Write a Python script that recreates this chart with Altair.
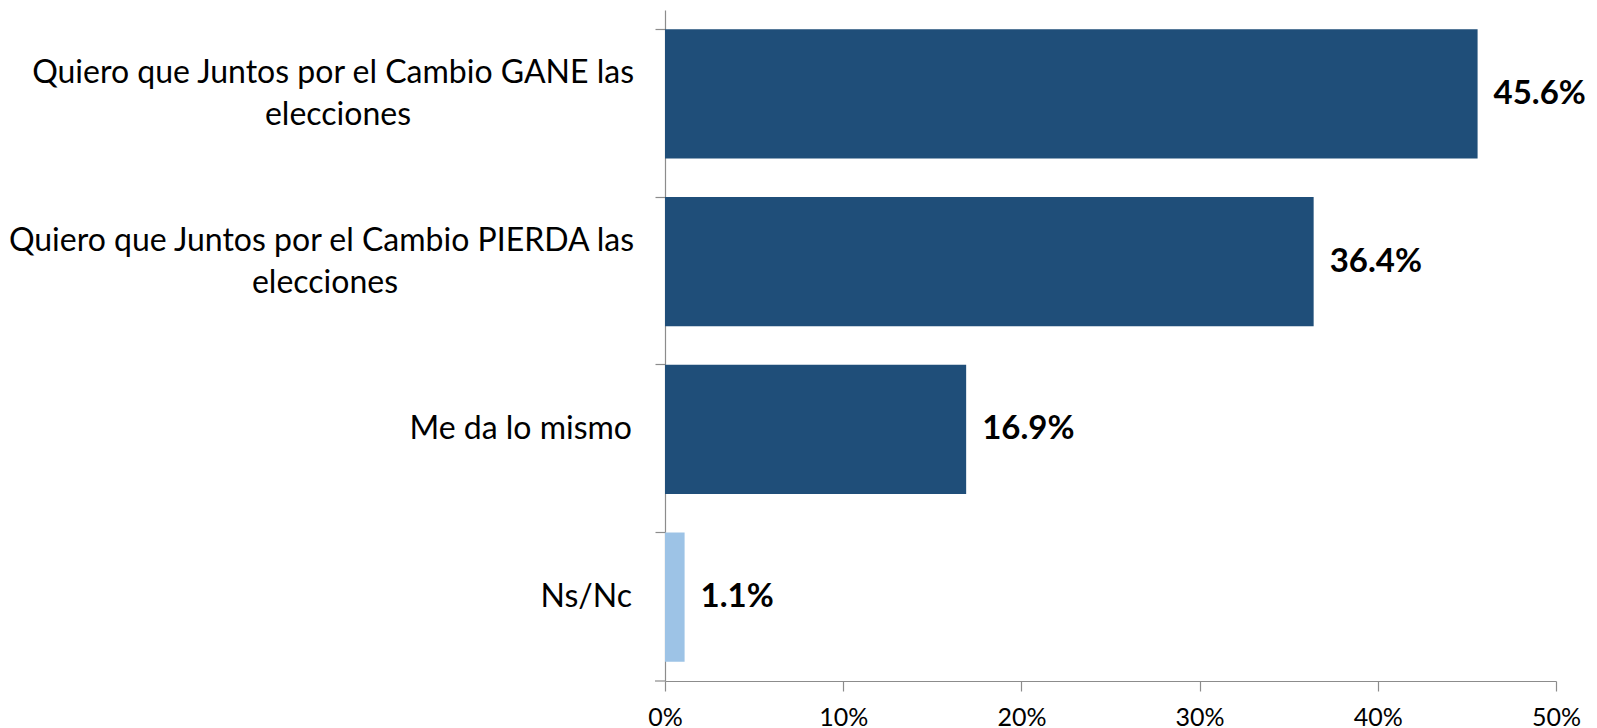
import altair as alt
import pandas as pd

categories = ["GANE", "PIERDA", "MISMO", "NSNC"]
values = [45.6, 36.4, 16.9, 1.1]
groups = ["main", "main", "main", "nsnc"]
line1 = [
    "Quiero que Juntos por el Cambio GANE las",
    "Quiero que Juntos por el Cambio PIERDA las",
    "Me da lo mismo",
    "Ns/Nc",
]
line2 = ["elecciones", "elecciones", "", ""]
x_ticks = [0, 10, 20, 30, 40, 50]

FONT = "Lato"
AXIS_GREY = "#8c8c8c"

df = pd.DataFrame({
    "cat": categories,
    "value": values,
    "grp": groups,
    "line1": line1,
    "line2": line2,
})
df["nlines"] = [2 if s else 1 for s in df["line2"]]
df["label"] = [f"{v:.1f}%" for v in df["value"]]

yscale = alt.Scale(domain=categories, paddingInner=0.23, paddingOuter=0.115)

x_enc = alt.X(
    "value:Q",
    scale=alt.Scale(domain=[0, 50]),
    axis=alt.Axis(
        values=x_ticks,
        labelExpr="datum.value + '%'",
        labelFlush=False,
        tickSize=10,
        grid=False,
        title=None,
        labelFontSize=25,
        labelFont=FONT,
        labelColor="#000000",
        labelPadding=14,
        domainColor=AXIS_GREY,
        tickColor=AXIS_GREY,
        domainWidth=1.2,
        tickWidth=1.2,
    ),
)

y_axis = alt.Axis(
    labels=False,
    title=None,
    bandPosition=0,
    tickSize=10,
    domainColor=AXIS_GREY,
    tickColor=AXIS_GREY,
    domainWidth=1.2,
    tickWidth=1.2,
)

base = alt.Chart(df)

bars = base.mark_bar().encode(
    x=x_enc,
    y=alt.Y("cat:N", scale=yscale, axis=y_axis, sort=categories),
    color=alt.Color(
        "grp:N",
        scale=alt.Scale(domain=["main", "nsnc"], range=["#1F4E79", "#9DC3E6"]),
        legend=None,
    ),
)

vals = base.mark_text(
    align="left", baseline="middle", dx=16, fontSize=33, fontWeight="bold",
    font=FONT, color="#000000",
).encode(
    x="value:Q",
    y=alt.Y("cat:N", scale=yscale, sort=categories),
    text="label:N",
)

single = base.transform_filter("datum.nlines == 1").mark_text(
    align="right", baseline="middle", fontSize=32, font=FONT, color="#000000",
).encode(
    x=alt.value(-33),
    y=alt.Y("cat:N", scale=yscale, sort=categories),
    text="line1:N",
)

first = base.transform_filter("datum.nlines == 2").mark_text(
    align="right", baseline="middle", dy=-21, fontSize=32, font=FONT, color="#000000",
).encode(
    x=alt.value(-31),
    y=alt.Y("cat:N", scale=yscale, sort=categories),
    text="line1:N",
)


def second_line(cat, xoff):
    return base.transform_filter(alt.datum.cat == cat).mark_text(
        align="center", baseline="middle", dy=21, fontSize=32, font=FONT,
        color="#000000",
    ).encode(
        x=alt.value(xoff),
        y=alt.Y("cat:N", scale=yscale, sort=categories),
        text="line2:N",
    )


second_a = second_line("GANE", -327)
second_b = second_line("PIERDA", -340)

corner = alt.Chart(pd.DataFrame({"k": [0]})).mark_rule(
    color=AXIS_GREY, strokeWidth=1.2
).encode(
    x=alt.value(-10), x2=alt.value(0), y=alt.value(671)
)

chart = alt.layer(bars, vals, single, first, second_a, second_b, corner).properties(
    width=891,
    height=671,
    autosize=alt.AutoSizeParams(type="none"),
    padding={"left": 657, "top": 2, "right": 31, "bottom": 50},
    background="white",
).configure_view(stroke=None)

chart.save("out.html", embed_options={"renderer": "svg", "actions": False})
